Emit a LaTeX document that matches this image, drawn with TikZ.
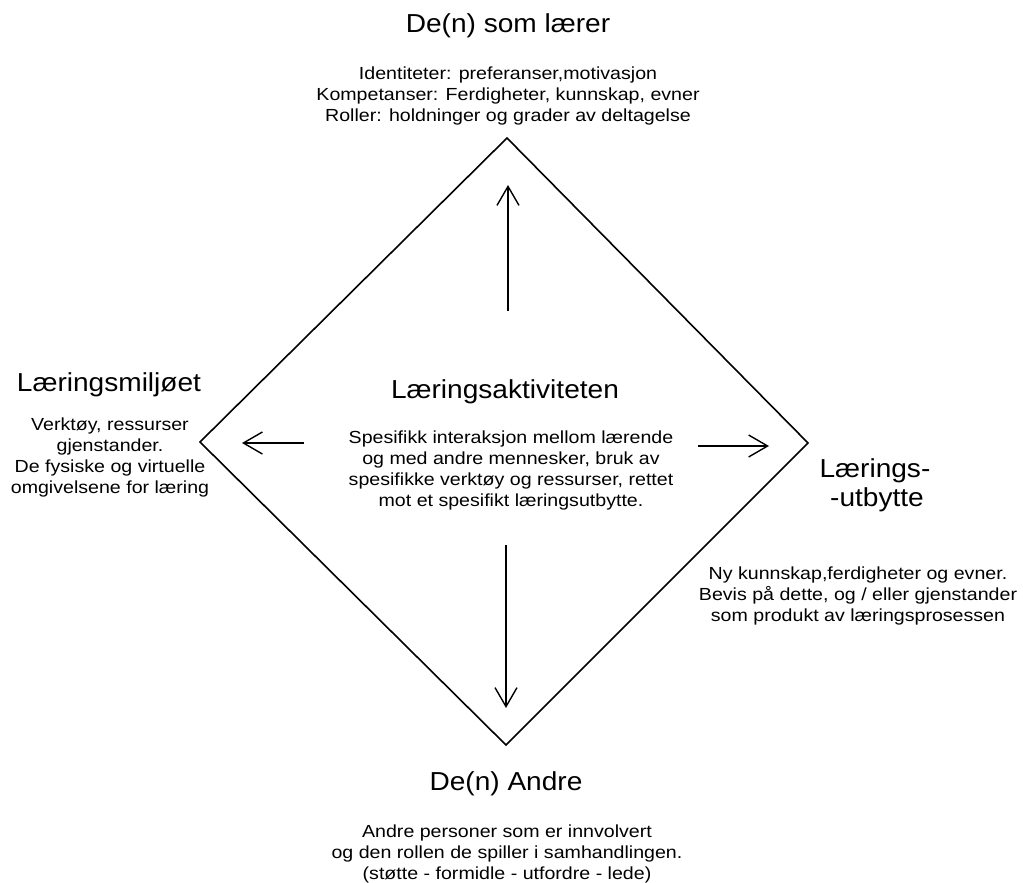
\documentclass[tikz,border=0pt]{standalone}
\usepackage{fontspec}
\setmainfont{Liberation Sans}
\newfontfamily\bodyfont[FakeStretch=1.12]{Liberation Sans}
\newfontfamily\titlefont[FakeStretch=1.08]{Liberation Sans}
\usetikzlibrary{arrows.meta}
\tikzset{
  titletext/.style={font=\titlefont\fontsize{26}{28}\selectfont, inner sep=0pt, anchor=base},
  bodytext/.style={font=\bodyfont\fontsize{17.5}{21}\selectfont, align=center, inner sep=0pt, anchor=north},
  edge/.style={line width=1.6pt, line join=miter},
  flow/.style={line width=1.4pt, -{Straight Barb[length=19pt,width=22pt,line width=1.4pt]}}
}
\begin{document}
\begin{tikzpicture}[x=1pt,y=-1pt]
\useasboundingbox[fill=white] (0,0) rectangle (1023,883);
% diamond corners
\coordinate (top) at (507,138);
\coordinate (lft) at (200,442);
\coordinate (rgt) at (808,443);
\coordinate (bot) at (506,745);
\draw[edge] (top) -- (rgt) -- (bot) -- (lft) -- cycle;
% arrows
\coordinate (upS) at (508,311);
\coordinate (upE) at (508,185);
\coordinate (lfS) at (304,443);
\coordinate (lfE) at (242,443);
\coordinate (rtS) at (698,446);
\coordinate (rtE) at (769,446);
\coordinate (dnS) at (506,545);
\coordinate (dnE) at (506,708);
\draw[flow] (upS) -- (upE);
\draw[flow] (lfS) -- (lfE);
\draw[flow] (rtS) -- (rtE);
\draw[flow] (dnS) -- (dnE);
% top
\node[titletext] (ttop) at (508,33) {De(n) som lærer};
\node[bodytext] (btop) at (508,67) {Identiteter: preferanser,motivasjon\\Kompetanser: Ferdigheter, kunnskap, evner\\Roller: holdninger og grader av deltagelse};
% left
\node[titletext] (tlft) at (109,391) {Læringsmiljøet};
\node[bodytext] (blft) at (110,418) {Verktøy, ressurser\\gjenstander.\\De fysiske og virtuelle\\omgivelsene for læring};
% center
\node[titletext] (tctr) at (505,398) {Læringsaktiviteten};
\node[bodytext] (bctr) at (511,431) {Spesifikk interaksjon mellom lærende\\og med andre mennesker, bruk av\\spesifikke verktøy og ressurser, rettet\\mot et spesifikt læringsutbytte.};
% right
\node[titletext] (trgt1) at (875,477) {Lærings-};
\node[titletext] (trgt2) at (877,506) {-utbytte};
\node[bodytext] (brgt) at (858,567) {Ny kunnskap,ferdigheter og evner.\\Bevis på dette, og / eller gjenstander\\som produkt av læringsprosessen};
% bottom
\node[titletext] (tbot) at (506,790) {De(n) Andre};
\node[bodytext] (bbot) at (507,825) {Andre personer som er innvolvert\\og den rollen de spiller i samhandlingen.\\(støtte - formidle - utfordre - lede)};
\end{tikzpicture}
\end{document}
